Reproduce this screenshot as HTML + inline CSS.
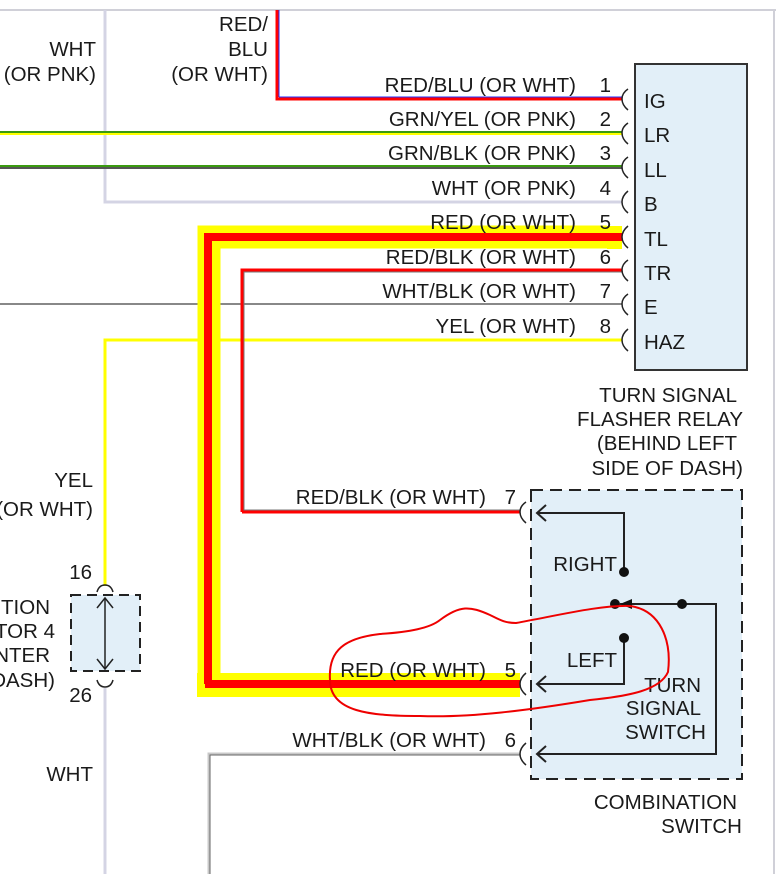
<!DOCTYPE html>
<html><head><meta charset="utf-8"><style>
html,body{margin:0;padding:0;background:#fff;}
svg{display:block;}
text{font-family:"Liberation Sans",sans-serif;font-size:20.5px;fill:#1a1a1a;}
</style></head><body>
<svg width="776" height="874" viewBox="0 0 776 874" xmlns="http://www.w3.org/2000/svg">
<line x1="0" y1="10" x2="776" y2="10" stroke="#d0d0d8" stroke-width="2"/>
<line x1="774" y1="10" x2="774" y2="874" stroke="#d0d0d8" stroke-width="2"/>

<rect x="635" y="64" width="112" height="306" fill="#e2eff8" stroke="#333" stroke-width="2"/>
<rect x="531" y="490" width="211" height="289" fill="#e2eff8" stroke="#222" stroke-width="2" stroke-dasharray="12,7"/>
<rect x="71" y="595" width="69" height="76" fill="#e2eff8" stroke="#222" stroke-width="2" stroke-dasharray="10,6"/>

<polyline points="105,10 105,202 622,202" fill="none" stroke="#d4d4e4" stroke-width="3"/>
<polyline points="277,10 277,99 622,99" fill="none" stroke="#ff0000" stroke-width="3"/>
<line x1="279" y1="10" x2="279" y2="97" stroke="#2030ff" stroke-width="1"/>
<line x1="279" y1="97" x2="622" y2="97" stroke="#2030ff" stroke-width="1"/>
<line x1="0" y1="133" x2="622" y2="133" stroke="#ffff00" stroke-width="4"/>
<line x1="0" y1="132" x2="622" y2="132" stroke="#3a9a10" stroke-width="2"/>
<line x1="0" y1="167" x2="622" y2="167" stroke="#555" stroke-width="4"/>
<line x1="0" y1="166" x2="622" y2="166" stroke="#3a9a10" stroke-width="2"/>
<line x1="0" y1="304" x2="622" y2="304" stroke="#888" stroke-width="2"/>
<polyline points="105,586 105,340 622,340" fill="none" stroke="#ffff00" stroke-width="3"/>
<polyline points="209,686 209,237 607,237" fill="none" stroke="#ffff00" stroke-width="23"/>
<rect x="607" y="226" width="15" height="23" fill="#ffff00"/>
<rect x="197" y="673" width="323" height="24" fill="#ffff00"/>
<polyline points="208,684 208,237 622,237" fill="none" stroke="#ff0000" stroke-width="8"/>
<line x1="205" y1="684" x2="520" y2="684" stroke="#ff0000" stroke-width="8"/>
<polyline points="242,512 242,270 622,270" fill="none" stroke="#ff0000" stroke-width="3"/>
<polyline points="244,512 244,272 622,272" fill="none" stroke="#777" stroke-width="1"/>
<line x1="242" y1="512" x2="520" y2="512" stroke="#ff0000" stroke-width="3"/>
<line x1="244" y1="510" x2="520" y2="510" stroke="#777" stroke-width="1"/>
<polyline points="209,874 209,754 520,754" fill="none" stroke="#c8c8c8" stroke-width="3"/>
<polyline points="210,874 210,755 520,755" fill="none" stroke="#666" stroke-width="1"/>
<line x1="105" y1="688" x2="105" y2="874" stroke="#d4d4e4" stroke-width="3"/>

<g fill="none" stroke="#222" stroke-width="1.5">
<path d="M628,89 Q622,93 622,99 Q622,105 628,110"/>
<path d="M628,123 Q622,127 622,133 Q622,139 628,144"/>
<path d="M628,157 Q622,161 622,167 Q622,173 628,178"/>
<path d="M628,191 Q622,196 622,202 Q622,208 628,213"/>
<path d="M628,226 Q622,231 622,237 Q622,243 628,248"/>
<path d="M628,260 Q622,264 622,270 Q622,276 628,281"/>
<path d="M628,294 Q622,298 622,304 Q622,310 628,315"/>
<path d="M628,329 Q622,334 622,340 Q622,346 628,351"/>
<path d="M526,502 Q520,506 520,512 Q520,518 526,523"/>
<path d="M526,673 Q520,678 520,684 Q520,690 526,695"/>
<path d="M526,743 Q520,748 520,754 Q520,760 526,765"/>
<path d="M97,592 Q99,585 105,585 Q111,585 113,592"/>
<path d="M97,680 Q99,687 105,687 Q111,687 113,680"/>
</g>

<g stroke="#222" stroke-width="1.5" fill="none">
<line x1="105" y1="598" x2="105" y2="669"/>
<polyline points="97,608 105,598 113,608"/>
<polyline points="97,659 105,669 113,659"/>
</g>

<g stroke="#222" stroke-width="2" fill="none">
<polyline points="624,572 624,513 537,513"/>
<polyline points="546,505 537,513 546,521"/>
<polyline points="624,638 624,684 537,684"/>
<polyline points="546,676 537,684 546,692"/>
<polyline points="620,604 716,604 716,754 537,754"/>
<polyline points="546,746 537,754 546,762"/>
</g>
<g fill="#111">
<circle cx="624" cy="572" r="5"/>
<circle cx="624" cy="638" r="5"/>
<circle cx="615" cy="604" r="5"/>
<circle cx="682" cy="604" r="5"/>
<polygon points="620,604 632,599 632,609"/>
</g>

<text x="268" y="31" text-anchor="end">RED/</text>
<text x="268" y="56" text-anchor="end">BLU</text>
<text x="268" y="81" text-anchor="end">(OR WHT)</text>
<text x="96" y="56" text-anchor="end">WHT</text>
<text x="96" y="81" text-anchor="end">(OR PNK)</text>

<g text-anchor="end">
<text x="576" y="92">RED/BLU (OR WHT)</text>
<text x="576" y="126">GRN/YEL (OR PNK)</text>
<text x="576" y="160">GRN/BLK (OR PNK)</text>
<text x="576" y="195">WHT (OR PNK)</text>
<text x="576" y="229">RED (OR WHT)</text>
<text x="576" y="264">RED/BLK (OR WHT)</text>
<text x="576" y="298">WHT/BLK (OR WHT)</text>
<text x="576" y="333">YEL (OR WHT)</text>
<text x="611" y="92">1</text>
<text x="611" y="126">2</text>
<text x="611" y="160">3</text>
<text x="611" y="195">4</text>
<text x="611" y="229">5</text>
<text x="611" y="264">6</text>
<text x="611" y="298">7</text>
<text x="611" y="333">8</text>
<text x="486" y="504">RED/BLK (OR WHT)</text>
<text x="486" y="677">RED (OR WHT)</text>
<text x="486" y="747">WHT/BLK (OR WHT)</text>
<text x="516" y="504">7</text>
<text x="516" y="677">5</text>
<text x="516" y="747">6</text>
<text x="93" y="487">YEL</text>
<text x="93" y="516">(OR WHT)</text>
<text x="92" y="579">16</text>
<text x="92" y="702">26</text>
<text x="50" y="614">TION</text>
<text x="55" y="638">TOR 4</text>
<text x="50" y="662">NTER</text>
<text x="55" y="687">DASH)</text>
<text x="93" y="781">WHT</text>
<text x="617" y="571">RIGHT</text>
<text x="617" y="667">LEFT</text>
<text x="701" y="692">TURN</text>
<text x="701" y="715">SIGNAL</text>
<text x="706" y="739">SWITCH</text>
<text x="737" y="809">COMBINATION</text>
<text x="742" y="833">SWITCH</text>
</g>
<g text-anchor="start">
<text x="644" y="108">IG</text>
<text x="644" y="142">LR</text>
<text x="644" y="177">LL</text>
<text x="644" y="211">B</text>
<text x="644" y="246">TL</text>
<text x="644" y="280">TR</text>
<text x="644" y="314">E</text>
<text x="644" y="349">HAZ</text>
</g>
<g text-anchor="end">
<text x="737" y="402">TURN SIGNAL</text>
<text x="743" y="426">FLASHER RELAY</text>
<text x="737" y="450">(BEHIND LEFT</text>
<text x="743" y="475">SIDE OF DASH)</text>
</g>

<path d="M516,623 C560,615 600,605 630,606 C660,610 672,640 668,672 C660,690 630,696 590,700 C530,710 470,718 420,716 C370,716 330,712 330,680 C328,650 345,638 380,634 C410,632 430,628 440,620 C460,605 470,606 490,615 C500,620 505,623 516,623 Z" fill="none" stroke="#ee0000" stroke-width="2"/>
</svg>
</body></html>
